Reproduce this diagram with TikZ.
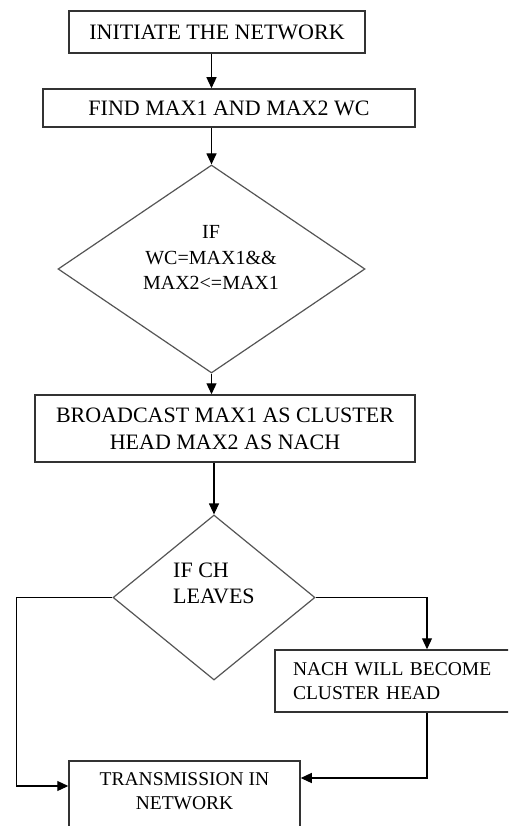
\documentclass[tikz,border=0pt]{standalone}
\usepackage{fontspec}
\setmainfont{Liberation Serif}
\usepackage{xcolor}
\definecolor{boxline}{HTML}{333333}
\definecolor{diamline}{HTML}{555555}
\usepackage{tikz}
\usetikzlibrary{arrows.meta,positioning,shapes.geometric}

\begin{document}
\begin{tikzpicture}[
  x=1pt,y=-1pt,
  box/.style={draw=boxline,line width=1.5pt,align=center,inner sep=0pt,font=\fontsize{22}{27}\selectfont},
  small/.style={font=\fontsize{19.5}{24}\selectfont},
  decision/.style={draw=diamline,diamond,line width=1.2pt,inner sep=0pt},
  arrow/.style={-{Triangle[length=11pt,width=10pt]},line width=1.2pt}
]
\useasboundingbox (0,0) rectangle (508,826);
\clip (0,0) rectangle (508,826);
\fill[white] (0,0) rectangle (508,826);
\node[box,minimum width=296pt,minimum height=42pt] (init) at (217,32) {INITIATE THE NETWORK};
\node[box,minimum width=372pt,minimum height=38pt] (find) at (229,108) {FIND MAX1 AND MAX2 WC};
\node[decision,minimum width=307pt,minimum height=208pt] (check) at (211.5,269) {};
\node[align=center,font=\fontsize{20}{25.5}\selectfont] (checktext) at (211,257.5) {IF\\WC=MAX1\&\&\\MAX2<=MAX1};
\node[box,minimum width=380pt,minimum height=67pt] (bcast) at (225,428.5) {BROADCAST MAX1 AS CLUSTER\\HEAD MAX2 AS NACH};
\node[decision,minimum width=202pt,minimum height=165pt] (leave) at (214,597.5) {};
\node[anchor=west,inner sep=0pt,align=left,font=\fontsize{22}{26}\selectfont] (leavetext) at (173,583) {IF CH\\LEAVES};
\node[box,small,text width=268pt,align=left,inner xsep=18pt,minimum height=62pt] (nach) at (427,681) {NACH WILL BECOME\\CLUSTER HEAD};
\node[box,minimum width=231pt,minimum height=100pt] (send) at (184.5,811) {};
\node[small,align=center] (sendtext) at (184.5,791) {TRANSMISSION IN\\NETWORK};
\draw[arrow] (init.south -| check.north) -- (find.north -| check.north);
\draw[arrow] (find.south -| check.north) -- (check.north);
\draw[arrow] (check.south) -- (bcast.north -| check.south);
\draw[arrow] (bcast.south -| leave.north) -- (leave.north);
\draw[arrow] (leave.east) -| (nach.north);
\draw[arrow] (leave.west) -- ++(-96,0) |- ([yshift=25pt]send.west);
\draw[arrow] (nach.south) |- ([yshift=33pt]send.east);
\end{tikzpicture}
\end{document}
